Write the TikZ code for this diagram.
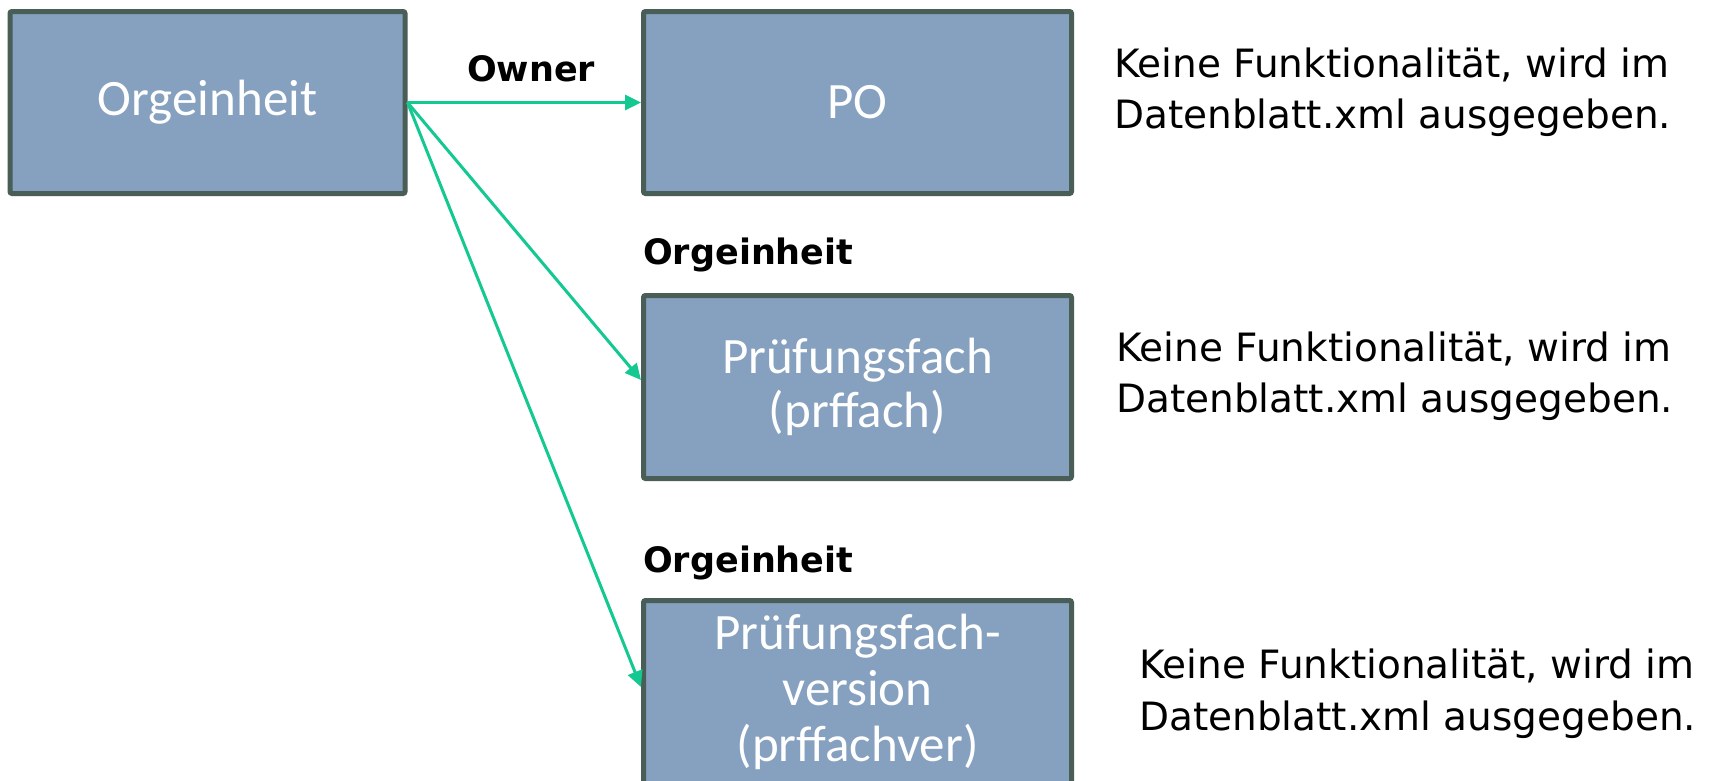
\documentclass[tikz,border=0pt]{standalone}
\usepackage{fontspec}
\setmainfont{DejaVu Sans}
\newfontfamily\boxfont{Carlito}
\usetikzlibrary{arrows.meta}
\definecolor{boxfill}{RGB}{134,161,191}
\definecolor{boxline}{RGB}{72,94,86}
\definecolor{arrowc}{RGB}{20,200,145}
\begin{document}
\begin{tikzpicture}[x=1pt,y=-1pt,
  entity/.style={draw=boxline, fill=boxfill, line width=5pt, rounded corners=2pt,
    text=white, font=\boxfont\fontsize{51}{54}\selectfont, align=center, inner sep=0pt,
    minimum width=428pt, minimum height=183pt},
  rel/.style={draw=arrowc, line width=3pt, -{Triangle[length=16pt,width=15pt]}},
  lab/.style={font=\bfseries\fontsize{35}{40}\selectfont, anchor=base west, inner sep=0pt},
  note/.style={font=\fontsize{39}{51}\selectfont, align=left, anchor=base west, inner sep=0pt}]
\clip (0,0) rectangle (1717,780);
\fill[white] (0,0) rectangle (1717,780);
\node[entity, minimum width=395pt, minimum height=182pt] (org) at (207.5,102.5) {Orgeinheit};
\node[entity, minimum height=182pt] (po) at (857.5,102.5) {PO};
\node[entity] (pf) at (857.5,387) {Prüfungsfach\\(prffach)};
\node[entity, font=\boxfont\fontsize{51}{56}\selectfont] (pfv) at (857.5,692) {Prüfungsfach-\\version\\(prffachver)};
\draw[rel] (org.east) -- (po.west);
\draw[rel] (org.east) -- ([yshift=7pt]pf.west);
\draw[rel] (org.east) -- ([yshift=5pt]pfv.west);
\node[lab] (l1) at (467,81) {Owner};
\node[lab] (l2) at (643,264) {Orgeinheit};
\node[lab] (l3) at (643,572) {Orgeinheit};
\node[note] (n1) at (1114,128) {Keine Funktionalität, wird im\\Datenblatt.xml ausgegeben.};
\node[note] (n2) at (1116,412) {Keine Funktionalität, wird im\\Datenblatt.xml ausgegeben.};
\node[note, font=\fontsize{39}{52}\selectfont] (n3) at (1139,730) {Keine Funktionalität, wird im\\Datenblatt.xml ausgegeben.};
\end{tikzpicture}
\end{document}
